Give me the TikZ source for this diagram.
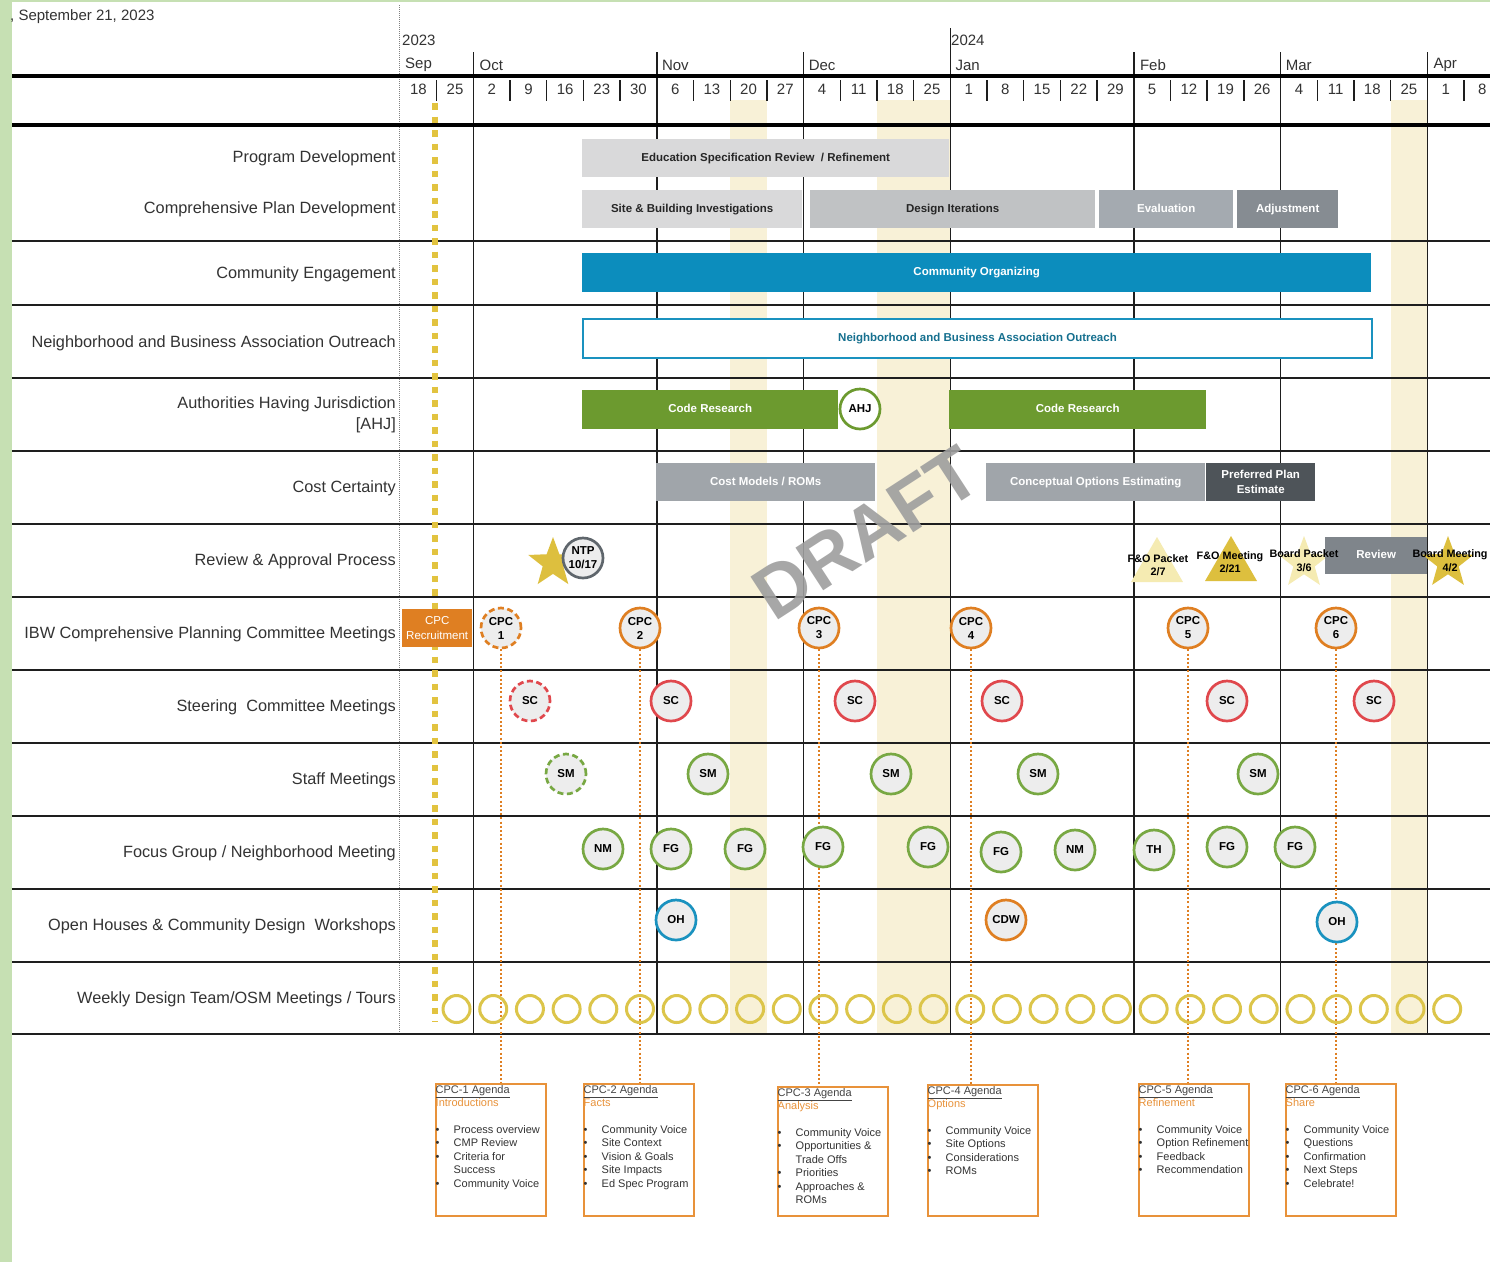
\documentclass[tikz,border=0pt]{standalone}
\usepackage{fontspec}
\setmainfont{Liberation Sans}
\usetikzlibrary{shapes.geometric}
\definecolor{lstrip}{HTML}{C6E0B3}
\definecolor{hol}{HTML}{F8F1D7}
\definecolor{ydot}{HTML}{E2C33F}
\definecolor{txt}{HTML}{333333}
\definecolor{gridc}{HTML}{1E1E1E}
\definecolor{lgrey}{HTML}{D9D9DA}
\definecolor{mgrey}{HTML}{C0C2C4}
\definecolor{evgrey}{HTML}{A4AAB0}
\definecolor{adgrey}{HTML}{868C92}
\definecolor{cblue}{HTML}{0C8DBD}
\definecolor{nblue}{HTML}{1A92BF}
\definecolor{ntext}{HTML}{16708F}
\definecolor{cgreen}{HTML}{6C9A2F}
\definecolor{cogrey}{HTML}{A0A5AA}
\definecolor{dkgrey}{HTML}{4E5459}
\definecolor{rvgrey}{HTML}{7F858B}
\definecolor{corange}{HTML}{DF7F22}
\definecolor{cred}{HTML}{E0484D}
\definecolor{smgreen}{HTML}{78A843}
\definecolor{cfill}{HTML}{EDEDED}
\definecolor{ntpgrey}{HTML}{5F666C}
\definecolor{gold}{HTML}{DDBF3E}
\definecolor{pale}{HTML}{F5EBB2}
\definecolor{wkyel}{HTML}{DCC54A}
\definecolor{agor}{HTML}{E8923A}
\definecolor{draftc}{HTML}{9E9E9E}
\definecolor{aghead}{HTML}{444444}
\newcommand\FS[2]{\fontsize{#1}{#2}\selectfont}
\newcommand\AgBox[7]{%
  \node[agbox, minimum height=#7] (#1) at (#2,#3) {};
  \node[agtext] (#1t) at ({#2+0.5},{#3+0.5}) {%
    \begin{tabular}{@{}p{18pt}@{}l@{}}
    \multicolumn{2}{@{}l@{}}{\textcolor{aghead}{\underline{#4}}}\\
    \multicolumn{2}{@{}l@{}}{\textcolor{agor}{#5}}\\
    \\
    #6
    \end{tabular}};
}
\begin{document}
\begin{tikzpicture}[x=1pt,y=-1pt,
  lab/.style={anchor=east, inner sep=0pt, font=\FS{16.3}{21}, text=txt, align=right},
  wk/.style={inner sep=0pt, font=\FS{15}{17}, text=txt},
  mon/.style={anchor=west, inner sep=0pt, font=\FS{15}{17}, text=txt},
  gl/.style={draw=gridc, line width=1.4pt},
  thick/.style={draw=black, line width=3.6pt},
  barm/.style={rectangle, anchor=west, inner sep=0pt, minimum height=38pt, font=\bfseries\FS{11.5}{15.5}, align=center},
  bar/.style={barm, text height=8.5pt, text depth=2.5pt},
  ev/.style={circle, draw, line width=2.7pt, fill=cfill, minimum size=40pt, inner sep=0pt, font=\bfseries\FS{11.5}{14}, text=black, align=center},
  cpc/.style={ev, draw=corange},
  sc/.style={ev, draw=cred},
  sm/.style={ev, draw=smgreen},
  fg/.style={ev, draw=smgreen},
  oh/.style={ev, draw=nblue},
  wkc/.style={circle, draw=wkyel, line width=3pt, minimum size=27pt, inner sep=0pt},
  mtxt/.style={inner sep=0pt, font=\bfseries\FS{10.8}{13.5}, text=black, align=center},
  agbox/.style={rectangle, draw=agor, line width=1.8pt, anchor=north west, minimum width=110pt, inner sep=0pt},
  agtext/.style={anchor=north west, inner sep=0pt, font=\FS{11}{13.4}, text=txt},
  conn/.style={draw=corange, line width=2pt, dash pattern=on 2pt off 2.2pt}
]
\useasboundingbox (0,0) rectangle (1490,1262);
\fill[white] (0,0) rectangle (1490,1262);
\fill[lstrip] (0,0) rectangle (12,1262);
\fill[lstrip] (0,0) rectangle (1490,2);

% holiday columns
\fill[hol] ({400+36.69*9},100) rectangle ({400+36.69*10},1034);
\fill[hol] ({400+36.69*13},100) rectangle ({400+36.69*15},1034);
\fill[hol] ({400+36.69*27},100) rectangle ({400+36.69*28},1034);

% header texts
\node[anchor=west, inner sep=0pt, font=\FS{15}{17}, text=txt] (date) at (10,17) {, September 21, 2023};
\node[mon] (y23) at (402,40) {2023};
\node[mon] (y24) at (951,40) {2024};
\node[mon] (msep) at (405,65) {Sep};
\node[mon] (moct) at ({400+36.69*2+6},65) {Oct};
\node[mon] (mnov) at ({400+36.69*7+5},65) {Nov};
\node[mon] (mdec) at ({400+36.69*11+5},65) {Dec};
\node[mon] (mjan) at ({400+36.69*15+5},65) {Jan};
\node[mon] (mfeb) at ({400+36.69*20+6},65) {Feb};
\node[mon] (mmar) at ({400+36.69*24+5},65) {Mar};
\node[mon] (mapr) at ({400+36.69*28+6},65) {Apr};

\foreach \d [count=\i from 0] in {18,25,2,9,16,23,30,6,13,20,27,4,11,18,25,1,8,15,22,29,5,12,19,26,4,11,18,25,1,8}
  \node[wk] (w\i) at ({400+36.69*(\i+0.5)},89) {\d};
\foreach \k in {1,...,29}
  \draw[gl] ({400+36.69*\k},80) -- ({400+36.69*\k},101);

% month lines
\foreach \k in {2,7,11,20,24,28}
  \draw[gl] ({400+36.69*\k},52) -- ({400+36.69*\k},1034);
\draw[gl] ({400+36.69*15},28) -- ({400+36.69*15},1034);

% left dotted column border
\draw[draw=gray, line width=1pt, dash pattern=on 1pt off 1pt] (399,5) -- (399,1034);

% row lines
\foreach \yy in {241,305,378,451,524,597,670,743,816,889,962,1034}
  \draw[gl] (12,\yy) -- (1490,\yy);
\draw[thick] (12,76) -- (1490,76);
\draw[thick] (12,125) -- (1490,125);

% yellow dotted line
\draw[draw=ydot, line width=6.5pt, dash pattern=on 6.5pt off 7pt] (435,103) -- (435,1022);

% row labels
\node[lab] (l1) at (396,158) {Program Development};
\node[lab] (l2) at (396,209) {Comprehensive Plan Development};
\node[lab] (l3) at (396,274) {Community Engagement};
\node[lab] (l4) at (396,343) {Neighborhood and Business Association Outreach};
\node[lab] (l5) at (396,415) {Authorities Having Jurisdiction\\{[AHJ]}};
\node[lab] (l6) at (396,488) {Cost Certainty};
\node[lab] (l7) at (396,561) {Review \& Approval Process};
\node[lab] (l8) at (396,634) {IBW Comprehensive Planning Committee Meetings};
\node[lab] (l9) at (396,707) {Steering\ \ Committee Meetings};
\node[lab] (l10) at (396,780) {Staff Meetings};
\node[lab] (l11) at (396,853) {Focus Group / Neighborhood Meeting};
\node[lab] (l12) at (396,926) {Open Houses \& Community Design\ \ Workshops};
\node[lab] (l13) at (396,999) {Weekly Design Team/OSM Meetings / Tours};

% bars
\node[bar, fill=lgrey, text=black!85, minimum width=367pt] (edu) at (582,158) {Education Specification Review\ \ / Refinement};
\node[bar, fill=lgrey, text=black!85, minimum width=220pt] (site) at (582,209) {Site \& Building Investigations};
\node[bar, fill=mgrey, text=black!85, minimum width=285pt] (design) at (810,209) {Design Iterations};
\node[bar, fill=evgrey, text=white, minimum width=134pt] (eval) at (1099,209) {Evaluation};
\node[bar, fill=adgrey, text=white, minimum width=101pt] (adj) at (1237,209) {Adjustment};
\node[bar, fill=cblue, text=white, minimum width=789pt, minimum height=39pt] (comorg) at (582,272.5) {Community Organizing};
\node[bar, fill=white, draw=nblue, line width=2pt, text=ntext, minimum width=789pt, minimum height=39pt] (nbao) at (582,338) {Neighborhood and Business Association Outreach};
\node[bar, fill=cgreen, text=white, minimum width=256pt, minimum height=39pt] (code1) at (582,409.5) {Code Research};
\node[bar, fill=cgreen, text=white, minimum width=257pt, minimum height=39pt] (code2) at (949,409.5) {Code Research};
\node[ev, draw=cgreen, fill=white] (ahj) at (860,409) {AHJ};
\node[bar, fill=cogrey, text=white, minimum width=219pt] (cost1) at (656,482) {Cost Models / ROMs};
\node[bar, fill=cogrey, text=white, minimum width=219pt] (cost2) at (986,482) {Conceptual Options Estimating};
\node[barm, fill=dkgrey, text=white, minimum width=109pt] (pref) at (1206,482) {Preferred Plan\\Estimate};

% review & approval
\node[star, star points=5, star point ratio=2.4, minimum size=52pt, inner sep=0pt, fill=gold] (ntpstar) at (553,563) {};
\node[ev, draw=ntpgrey] (ntp) at (583,558) {NTP\\10/17};
\node[regular polygon, regular polygon sides=3, minimum size=60pt, inner sep=0pt, fill=pale] (fopk) at (1157,567) {};
\node[regular polygon, regular polygon sides=3, minimum size=60pt, inner sep=0pt, fill=gold] (fomt) at (1231,566) {};
\node[star, star points=5, star point ratio=2.4, minimum size=54pt, inner sep=0pt, fill=pale] (bpk) at (1304,563) {};
\node[bar, fill=rvgrey, text=white, minimum width=102pt, minimum height=37pt] (review) at (1325,555.5) {Review};
\node[star, star points=5, star point ratio=2.4, minimum size=54pt, inner sep=0pt, fill=gold] (bmt) at (1448,563) {};
\node[mtxt] (fopkt) at (1158,565) {F\&O Packet\\2/7};
\node[mtxt] (fomtt) at (1230,562) {F\&O Meeting\\2/21};
\node[mtxt] (bpkt) at (1304,560.5) {Board Packet\\3/6};
\node[mtxt] (bmtt) at (1450,560.5) {Board Meeting\\4/2};

% CPC row
\node[barm, fill=corange, text=white, minimum width=70pt, minimum height=38pt, font=\FS{11.5}{15.5}] (cpcrec) at (402,628) {CPC\\Recruitment};
\node[cpc, dash pattern=on 6pt off 3.5pt] (cpc1) at (501,628) {CPC\\1};
\node[cpc] (cpc2) at (640,628) {CPC\\2};
\node[cpc] (cpc3) at (819,628) {CPC\\3};
\node[cpc] (cpc4) at (971,628) {CPC\\4};
\node[cpc] (cpc5) at (1188,628) {CPC\\5};
\node[cpc] (cpc6) at (1336,628) {CPC\\6};

% agenda boxes
\AgBox{ag1}{435}{1083}{CPC-1 Agenda}{Introductions}{\textbullet & Process overview\\ \textbullet & CMP Review\\ \textbullet & Criteria for\\ & Success\\ \textbullet & Community Voice\\}{132pt}
\AgBox{ag2}{583}{1083}{CPC-2 Agenda}{Facts}{\textbullet & Community Voice\\ \textbullet & Site Context\\ \textbullet & Vision \& Goals\\ \textbullet & Site Impacts\\ \textbullet & Ed Spec Program\\}{132pt}
\AgBox{ag3}{777}{1086}{CPC-3 Agenda}{Analysis}{\textbullet & Community Voice\\ \textbullet & Opportunities \&\\ & Trade Offs\\ \textbullet & Priorities\\ \textbullet & Approaches \&\\ & ROMs\\}{129pt}
\AgBox{ag4}{927}{1084}{CPC-4 Agenda}{Options}{\textbullet & Community Voice\\ \textbullet & Site Options\\ \textbullet & Considerations\\ \textbullet & ROMs\\}{131pt}
\AgBox{ag5}{1138}{1083}{CPC-5 Agenda}{Refinement}{\textbullet & Community Voice\\ \textbullet & Option Refinement\\ \textbullet & Feedback\\ \textbullet & Recommendation\\}{132pt}
\AgBox{ag6}{1285}{1083}{CPC-6 Agenda}{Share}{\textbullet & Community Voice\\ \textbullet & Questions\\ \textbullet & Confirmation\\ \textbullet & Next Steps\\ \textbullet & Celebrate!\\}{132pt}

% connectors
\foreach \n in {1,...,6}
  \draw[conn] (cpc\n.south) -- (cpc\n.south |- ag\n.north);

% steering committee
\node[sc, dash pattern=on 6pt off 3.5pt] (sc1) at (530,701) {SC};
\node[sc] (sc2) at (671,701) {SC};
\node[sc] (sc3) at (855,701) {SC};
\node[sc] (sc4) at (1002,701) {SC};
\node[sc] (sc5) at (1227,701) {SC};
\node[sc] (sc6) at (1374,701) {SC};

% staff meetings
\node[sm, dash pattern=on 6pt off 3.5pt] (sm1) at (566,774) {SM};
\node[sm] (sm2) at (708,774) {SM};
\node[sm] (sm3) at (891,774) {SM};
\node[sm] (sm4) at (1038,774) {SM};
\node[sm] (sm5) at (1258,774) {SM};

% focus groups
\node[fg] (f1) at (603,849) {NM};
\node[fg] (f2) at (671,849) {FG};
\node[fg] (f3) at (745,849) {FG};
\node[fg] (f4) at (823,847) {FG};
\node[fg] (f5) at (928,847) {FG};
\node[fg] (f6) at (1001,852) {FG};
\node[fg] (f7) at (1075,850) {NM};
\node[fg] (f8) at (1154,850) {TH};
\node[fg] (f9) at (1227,847) {FG};
\node[fg] (f10) at (1295,847) {FG};

% open houses
\node[oh] (oh1) at (676,920) {OH};
\node[ev, draw=corange] (cdw) at (1006,920) {CDW};
\node[oh] (oh2) at (1337,922) {OH};

% weekly meetings
\foreach \i in {1,...,28}
  \node[wkc] (wc\i) at ({400+36.69*(\i+0.5)+1.5},1009) {};

% watermark
\node[inner sep=0pt, rotate=33, font=\bfseries\FS{74}{74}, text=draftc, opacity=0.9] (draft) at (866,533) {DRAFT};
\end{tikzpicture}
\end{document}
